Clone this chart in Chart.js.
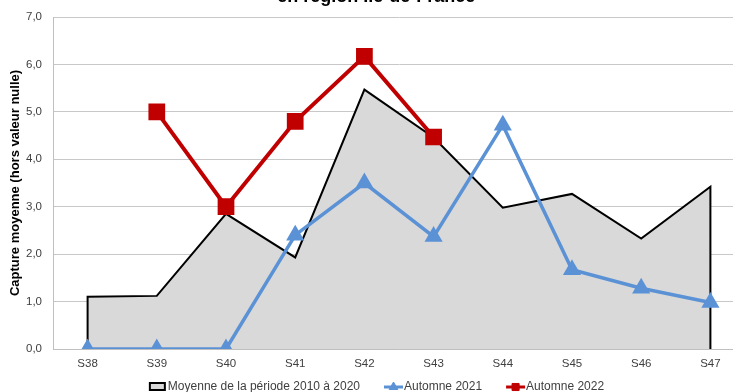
<!DOCTYPE html>
<html lang="fr">
<head>
<meta charset="utf-8">
<title>Capture moyenne</title>
<script src="https://cdn.jsdelivr.net/npm/chart.js@4/dist/chart.umd.min.js"></script>
<style>
  html, body { margin: 0; padding: 0; width: 733px; height: 392px; overflow: hidden; background: #fff; }
  #wrap { position: absolute; left: 0; top: -14px; width: 758px; height: 406px; }
</style>
</head>
<body>
<div id="wrap"><canvas id="captureChart"></canvas></div>
<script>
'use strict'

const semaines = ['S38', 'S39', 'S40', 'S41', 'S42', 'S43', 'S44', 'S45', 'S46', 'S47'];
const moyenne = [1.10, 1.12, 2.85, 1.93, 5.47, 4.46, 2.98, 3.27, 2.33, 3.42];
const automne2021 = [0, 0, 0, 2.4, 3.5, 2.37, 4.72, 1.67, 1.28, 0.98];
const automne2022 = [null, 5.0, 3.0, 4.8, 6.17, 4.47, null, null, null, null];

const FONT = '"Liberation Sans", Arial, sans-serif';
const TEXT = '#404040';

function toPoints(values) {
    return values
        .map((v, i) => ({ x: i, y: v }))
        .filter(p => p.y !== null);
}

// the average is drawn as a surface closed down to zero at both ends
const surface = [{ x: 0, y: 0 }, ...toPoints(moyenne), { x: moyenne.length - 1, y: 0 }];

// legend drawn by hand: box for the surface, line + marker for the two autumns
const legendPlugin = {
    id: 'captureLegend',
    afterDraw(chart) {
        const ctx = chart.ctx;
        const items = chart.data.datasets;
        const iconW = 19, gap = 1, spacing = 24;
        ctx.save();
        ctx.font = '12px ' + FONT;
        ctx.textBaseline = 'middle';
        const widths = items.map(ds => iconW + gap + ctx.measureText(ds.label).width);
        const total = widths.reduce((a, b) => a + b, 0) + spacing * (items.length - 1);
        let x = 376 - total / 2;
        const y = chart.chartArea.bottom + 38;
        items.forEach((ds, i) => {
            if (ds.fill) {
                ctx.fillStyle = ds.backgroundColor;
                ctx.strokeStyle = ds.borderColor;
                ctx.lineWidth = 2;
                ctx.fillRect(x + 2, y - 4, 15, 7);
                ctx.strokeRect(x + 2, y - 4, 15, 7);
            } else {
                ctx.strokeStyle = ds.borderColor;
                ctx.fillStyle = ds.borderColor;
                ctx.lineWidth = 3;
                ctx.beginPath();
                ctx.moveTo(x, y);
                ctx.lineTo(x + iconW, y);
                ctx.stroke();
                ctx.lineWidth = 1;
                Chart.helpers.drawPoint(ctx, { pointStyle: ds.pointStyle, radius: 5, rotation: 0, borderWidth: 1 }, x + iconW / 2, y);
            }
            ctx.fillStyle = TEXT;
            ctx.fillText(ds.label, x + iconW + gap, y);
            x += widths[i] + spacing;
        });
        ctx.restore();
    }
};

const ctx = document.getElementById('captureChart');
new Chart(ctx, {
    type: 'line',
    data: {
        datasets: [{
            label: 'Moyenne de la période 2010 à 2020',
            data: surface,
            borderColor: '#000000',
            backgroundColor: '#d9d9d9',
            borderWidth: 2,
            fill: 'origin',
            pointRadius: 0,
            tension: 0,
            order: 2
        }, {
            label: 'Automne 2021',
            data: toPoints(automne2021),
            borderColor: '#5b92d6',
            backgroundColor: '#5b92d6',
            borderWidth: 3.5,
            fill: false,
            pointStyle: 'triangle',
            pointRadius: 7,
            pointHoverRadius: 7,
            tension: 0,
            order: 1
        }, {
            label: 'Automne 2022',
            data: toPoints(automne2022),
            borderColor: '#c00000',
            backgroundColor: '#c00000',
            borderWidth: 4,
            fill: false,
            pointStyle: 'rect',
            pointRadius: 9,
            pointHoverRadius: 9,
            tension: 0,
            order: 0
        }]
    },
    options: {
        responsive: true,
        maintainAspectRatio: false,
        animation: false,
        layout: { padding: { left: 0, right: 5.5, top: 0, bottom: 17 } },
        plugins: {
            legend: { display: false },
            tooltip: { enabled: false },
            title: {
                display: true,
                text: 'en région Ile-de-France',
                color: '#000000',
                font: { family: FONT, size: 18, weight: 'bold' },
                padding: { top: 0, bottom: 9.4 }
            }
        },
        scales: {
            x: {
                type: 'linear',
                min: -0.5,
                max: semaines.length - 0.5,
                afterBuildTicks: axis => { axis.ticks = semaines.map((s, i) => ({ value: i })); },
                afterFit: axis => { axis.height = 26; },
                grid: { display: false, drawTicks: false },
                border: { display: true, color: '#bfbfbf', width: 1 },
                ticks: {
                    callback: v => semaines[v],
                    padding: 8,
                    color: TEXT,
                    maxRotation: 0,
                    autoSkip: false,
                    font: { family: FONT, size: 11.5 }
                }
            },
            y: {
                min: 0,
                max: 7,
                afterFit: axis => { axis.width = 53; },
                grid: { color: '#c8c8c8', drawTicks: false },
                border: { display: true, color: '#bfbfbf' },
                ticks: {
                    stepSize: 1,
                    padding: 11,
                    color: TEXT,
                    font: { family: FONT, size: 11.5 },
                    callback: v => v.toFixed(1).replace('.', ',')
                },
                title: {
                    display: true,
                    text: 'Capture moyenne (hors valeur nulle)',
                    color: '#000000',
                    font: { family: FONT, size: 13, weight: 'bold' },
                    padding: { top: 8, bottom: 0 }
                }
            }
        }
    },
    plugins: [legendPlugin]
});
</script>
</body>
</html>
